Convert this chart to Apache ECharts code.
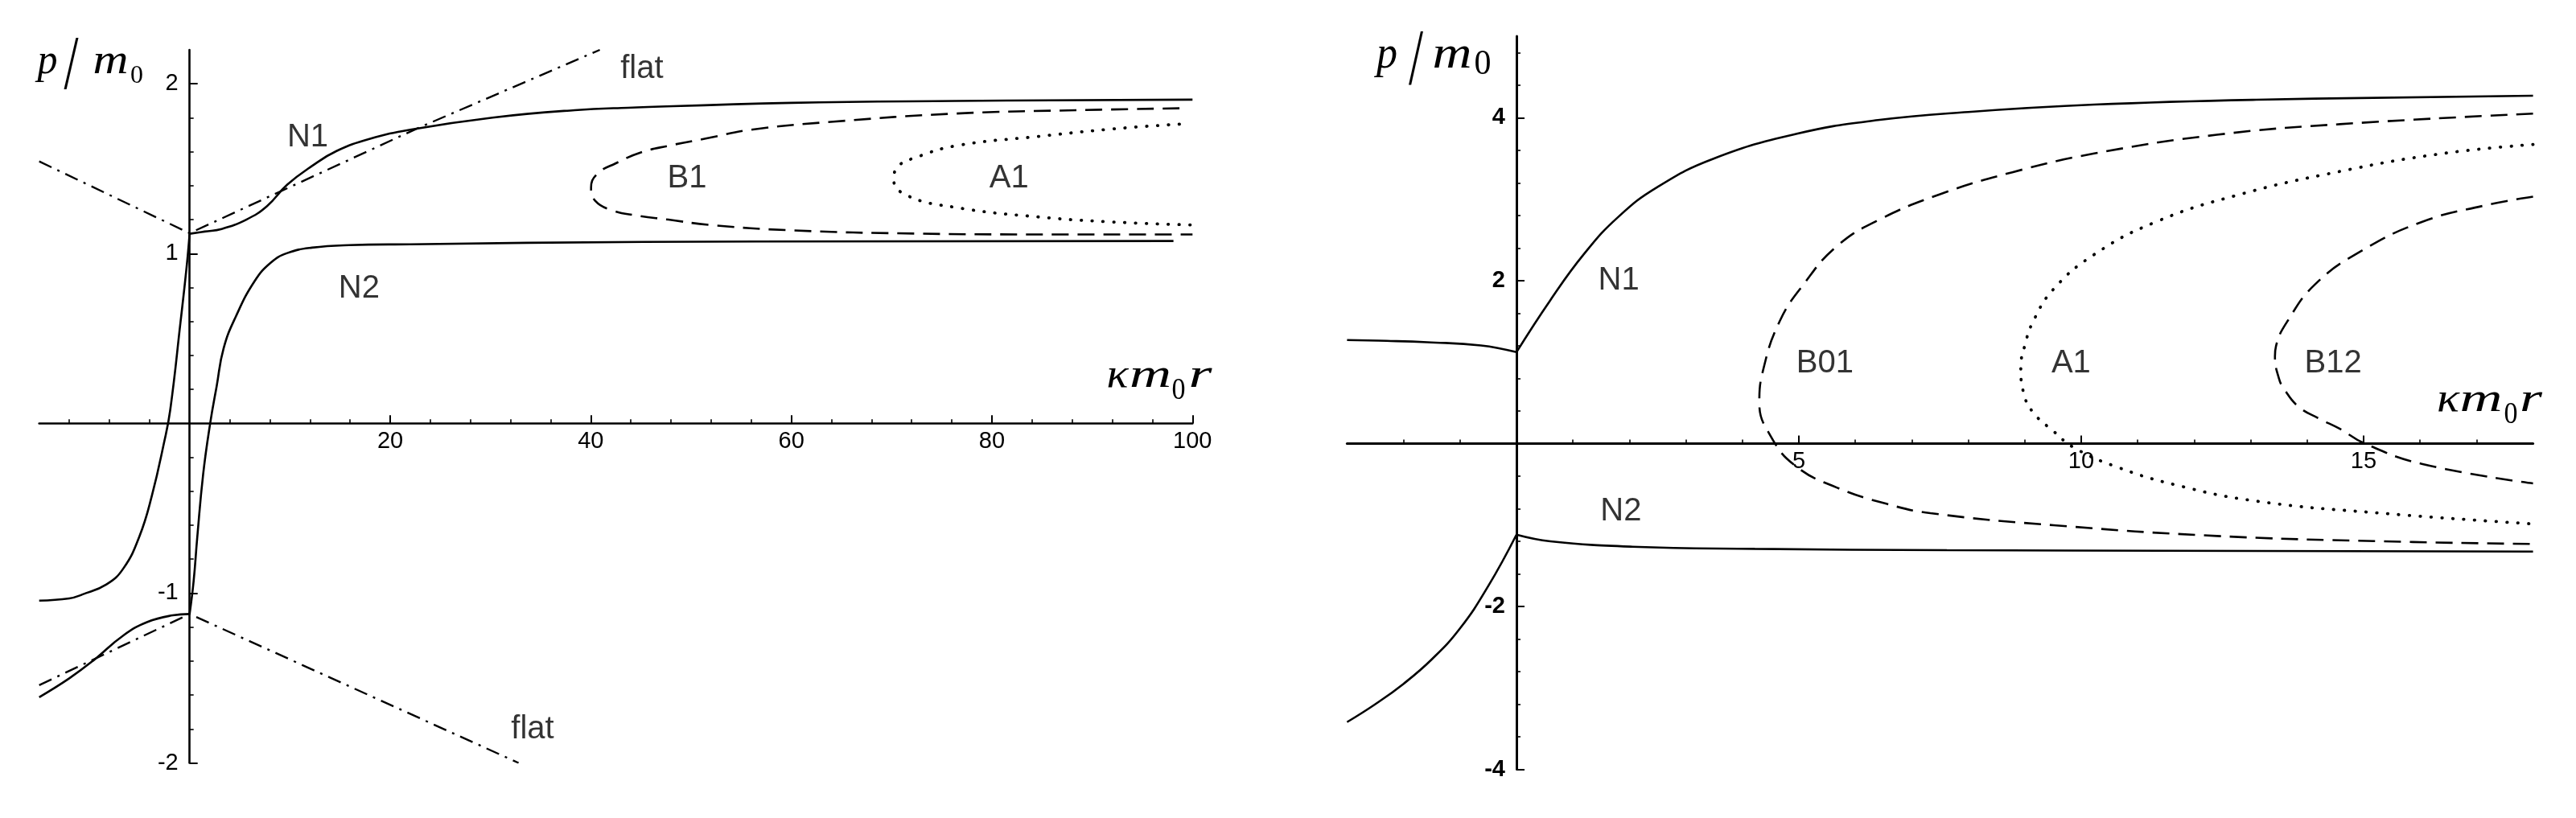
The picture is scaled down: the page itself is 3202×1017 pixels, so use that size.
<!DOCTYPE html>
<html>
<head>
<meta charset="utf-8">
<style>
  html, body { margin: 0; padding: 0; background: #fff; }
  #chart { width: 3202px; height: 1017px; }
</style>
<script src="https://cdn.jsdelivr.net/npm/echarts@6/dist/echarts.min.js"></script>
</head>
<body>
<div id="chart"></div>
<script>
// left panel: kappa m0 r from -15 to 100
const leftXMajor = [20, 40, 60, 80, 100];
const leftXMinor = [-12, -8, -4, 4, 8, 12, 16, 24, 28, 32, 36, 44, 48, 52, 56, 64, 68, 72, 76, 84, 88, 92, 96];
const leftYMajor = [-2, -1, 1, 2];
const leftYMinor = [-1.8, -1.6, -1.4, -1.2, -0.8, -0.6, -0.4, -0.2, 0.2, 0.4, 0.6, 0.8, 1.2, 1.4, 1.6, 1.8];

const leftN1Neg = [[-15, -1.044], [-12, -1.031], [-10.7, -1.008], [-8.3, -0.949], [-6.6, -0.854], [-5.0, -0.665],
  [-3.77, -0.428], [-2.54, -0.111], [-1.93, 0.08], [-0.9, 0.6], [-0.3, 0.92], [0, 1.117]];
const leftN1Pos = [[0, 1.117], [1.5, 1.13], [3.19, 1.145], [5.65, 1.2], [7.7, 1.279], [9.74, 1.406], [12.2, 1.516],
  [14.65, 1.604], [17.93, 1.675], [22.0, 1.73], [30.2, 1.801], [38.4, 1.845], [43.7, 1.859], [60, 1.888],
  [76.4, 1.899], [100, 1.907]];
const leftN2Neg = [[-15, -1.613], [-12, -1.502], [-9.5, -1.392], [-6.6, -1.249], [-4.2, -1.17], [-1.7, -1.131], [0, -1.123]];
const leftN2Pos = [[0, -1.123], [0.4, -0.93], [0.75, -0.68], [1.35, -0.3], [2.05, 0.0], [2.7, 0.22], [3.39, 0.442],
  [4.63, 0.632], [6.47, 0.837], [8.1, 0.947], [9.74, 1.003], [12.2, 1.035], [15.9, 1.05], [22.0, 1.055],
  [45.3, 1.069], [98.1, 1.074]];
const leftFlatUp = [[-15, 1.543], [0, 1.12], [22.8, 1.74], [40.9, 2.2]];
const leftFlatDown = [[-15, -1.542], [0, -1.123], [32.8, -2.0]];
const leftB1 = [[98.7, 1.856], [88.7, 1.845], [76.4, 1.825], [64.2, 1.777], [56, 1.73], [51.84, 1.682],
  [47.75, 1.635], [45.0, 1.596], [42.5, 1.532], [40.64, 1.469], [40.03, 1.39], [40.44, 1.311], [42.08, 1.256],
  [44.5, 1.225], [47.75, 1.2], [51.84, 1.169], [60, 1.137], [72.3, 1.118], [84.6, 1.113], [100, 1.113]];
const leftA1 = [[98.7, 1.762], [92.8, 1.738], [84.6, 1.69], [76.4, 1.635], [72.3, 1.564], [70.68, 1.516],
  [70.2, 1.438], [71.5, 1.343], [76.4, 1.272], [84.6, 1.216], [92.8, 1.184], [100, 1.169]];
const leftLabels = [['N1', 11.78, 1.686], ['N2', 16.9, 0.794], ['B1', 49.6, 1.441], ['A1', 81.7, 1.441],
  ['flat', 45.1, 2.086], ['flat', 34.2, -1.804]];

// right panel: kappa m0 r from -3 to 18
const rightXMajor = [5, 10, 15];
const rightXMinor = [-2, -1, 1, 2, 3, 4, 6, 7, 8, 9, 11, 12, 13, 14, 16, 17];
const rightYMajor = [-4, -2, 2, 4];
const rightYMinor = [-3.6, -3.2, -2.8, -2.4, -1.6, -1.2, -0.8, -0.4, 0.4, 0.8, 1.2, 1.6, 2.4, 2.8, 3.2, 3.6, 4.4, 4.8];

const rightN1Neg = [[-3, 1.27], [-2.3, 1.26], [-1.58, 1.243], [-0.63, 1.204], [0, 1.121]];
const rightN1Pos = [[0, 1.121], [0.6, 1.76], [1.2, 2.33], [1.8, 2.78], [2.5, 3.15], [3.5, 3.5], [4.95, 3.8],
  [6.4, 3.97], [8, 4.07], [10.23, 4.16], [13.1, 4.22], [18, 4.27]];
const rightN2Neg = [[-3, -3.42], [-2.5, -3.2], [-2, -2.95], [-1.5, -2.65], [-1, -2.27], [-0.5, -1.75], [0, -1.119]];
const rightN2Pos = [[0, -1.119], [0.6, -1.2], [2.05, -1.267], [4.22, -1.293], [7.62, -1.31], [18, -1.326]];
const rightB01 = [[18, 4.05], [14.58, 3.92], [12.4, 3.79], [10.23, 3.56], [8.78, 3.33], [7.5, 3.06], [6.4, 2.74],
  [5.67, 2.42], [5.09, 1.96], [4.66, 1.5], [4.37, 0.91], [4.3, 0.5], [4.51, 0.08], [4.95, -0.28], [5.67, -0.54],
  [6.55, -0.74], [7.33, -0.855], [9.51, -1.003], [12.4, -1.135], [15.3, -1.2], [18, -1.234]];
const rightA1 = [[18, 3.67], [16.4, 3.56], [14.58, 3.34], [12.77, 3.05], [11.32, 2.72], [10.23, 2.32], [9.51, 1.895],
  [9.15, 1.5], [9.0, 1.2], [8.93, 0.94], [8.98, 0.62], [9.15, 0.38], [9.51, 0.15], [9.87, -0.05], [10.6, -0.28],
  [11.68, -0.51], [13.13, -0.71], [15.3, -0.855], [18, -0.987]];
const rightB12 = [[18, 3.03], [17.13, 2.92], [16.03, 2.72], [14.95, 2.36], [14.15, 1.96], [13.65, 1.5], [13.45, 1.2],
  [13.43, 1.07], [13.5, 0.8], [13.6, 0.66], [13.85, 0.45], [14.2, 0.31], [14.58, 0.18], [15.02, 0.0],
  [16.03, -0.25], [18, -0.49]];
const rightLabels = [['N1', 1.81, 1.994], ['B01', 5.46, 0.981], ['N2', 1.85, -0.832], ['A1', 9.82, 0.981],
  ['B12', 14.46, 0.981]];

const chart = echarts.init(document.getElementById('chart'), null, { renderer: 'canvas' });

const grids = [
  { left: 48.7, width: 1433.6, top: 62, height: 886.5 },
  { left: 1674.4, width: 1474.2, top: 45, height: 911.5 }
];

const solid = { type: 'solid', width: 2.6 };
const dashed = { type: [21, 11], width: 2.6 };
const dotted = { type: [0.5, 13], width: 3.8, cap: 'round' };
const dashDot = { type: [17, 8, 3, 8], width: 2.4 };

function line(data, g, style) {
  return {
    type: 'line', xAxisIndex: 2 * g, yAxisIndex: 2 * g, data: data,
    symbol: 'none', smooth: 0.45, silent: true, z: 3,
    lineStyle: Object.assign({ color: '#000' }, style)
  };
}

function labels(list, g) {
  return {
    type: 'scatter', xAxisIndex: 2 * g, yAxisIndex: 2 * g, symbolSize: 0, silent: true, z: 5,
    data: list.map(l => ({ name: l[0], value: [l[1], l[2]] })),
    label: { show: true, position: 'inside', formatter: '{b}', color: '#000', fontSize: 40, fontFamily: 'Liberation Sans' }
  };
}

const tickFont = { color: '#000', fontSize: 29, fontFamily: 'Liberation Sans' };

// the axes cross at zero; labels must follow the line, so shift them with offset
function xAxes(g, min, max, ymin, ymax, major, minor, lw) {
  const off = -(0 - ymin) / (ymax - ymin) * grids[g].height;
  const base = { gridIndex: g, type: 'value', min: min, max: max, position: 'bottom', offset: off, splitLine: { show: false } };
  return [Object.assign({}, base, {
    axisLine: { onZero: false, lineStyle: { color: '#000', width: lw } },
    axisTick: { show: true, inside: true, length: 10, customValues: major, lineStyle: { color: '#000', width: 2 } },
    axisLabel: Object.assign({ customValues: major, margin: 8 }, tickFont)
  }), Object.assign({}, base, {
    axisLine: { show: false, onZero: false },
    axisTick: { show: true, inside: true, length: 5, customValues: minor, lineStyle: { color: '#000', width: 1.6 } },
    axisLabel: { show: false }
  })];
}

function yAxes(g, min, max, xmin, xmax, major, minor, lw, bold) {
  const off = -(0 - xmin) / (xmax - xmin) * grids[g].width;
  const base = { gridIndex: g, type: 'value', min: min, max: max, position: 'left', offset: off, splitLine: { show: false } };
  return [Object.assign({}, base, {
    axisLine: { onZero: false, lineStyle: { color: '#000', width: lw } },
    axisTick: { show: true, inside: true, length: 10, customValues: major, lineStyle: { color: '#000', width: 2 } },
    axisLabel: Object.assign({ customValues: major, margin: 14, fontWeight: bold ? 'bold' : 'normal' }, tickFont)
  }), Object.assign({}, base, {
    axisLine: { show: false, onZero: false },
    axisTick: { show: true, inside: true, length: 5, customValues: minor, lineStyle: { color: '#000', width: 1.6 } },
    axisLabel: { show: false }
  })];
}

// math-style axis names, glyph by glyph
const measure = document.createElement('canvas').getContext('2d');
function glyph(t, cx, cy, size, w, italic) {
  const font = (italic ? 'italic ' : '') + size + 'px "Liberation Serif"';
  measure.font = font;
  const sx = w / measure.measureText(t).width;
  return {
    type: 'text', x: cx, y: cy, scaleX: sx, silent: true, z: 10,
    style: { text: t, font: font, fill: '#000', align: 'center', verticalAlign: 'middle',
      textAlign: 'center', textVerticalAlign: 'middle' }
  };
}

const names = [
  glyph('p', 59, 77.3, 52, 25, true), glyph('/', 88.5, 85, 96, 18, false),
  glyph('m', 137.5, 77.3, 52, 44, true), glyph('0', 170, 95, 31, 16, false),
  glyph('κ', 1389, 467.5, 50, 27, true), glyph('m', 1430, 467.5, 50, 52, true),
  glyph('0', 1465, 486.5, 38, 17, false), glyph('r', 1492, 467.5, 50, 29, true),
  glyph('p', 1724, 69.4, 56, 26, true), glyph('/', 1760, 77.5, 100, 18, false),
  glyph('m', 1805, 69.4, 56, 49, true), glyph('0', 1843, 80, 44, 21, false),
  glyph('κ', 3043, 497.5, 50, 28, true), glyph('m', 3084, 497.5, 50, 53, true),
  glyph('0', 3121, 516.5, 38, 17, false), glyph('r', 3146, 497.5, 50, 28, true)
];

const option = {
  animation: false,
  backgroundColor: '#fff',
  grid: grids.map(g => Object.assign({ containLabel: false, outerBoundsMode: 'none' }, g)),
  xAxis: [].concat(xAxes(0, -15, 100, -2, 2.2, leftXMajor, leftXMinor, 2.6),
    xAxes(1, -3, 18, -4, 5, rightXMajor, rightXMinor, 3)),
  yAxis: [].concat(yAxes(0, -2, 2.2, -15, 100, leftYMajor, leftYMinor, 2.6, false),
    yAxes(1, -4, 5, -3, 18, rightYMajor, rightYMinor, 3, true)),
  graphic: names,
  series: [
    line(leftN1Neg, 0, solid), line(leftN1Pos, 0, solid),
    line(leftN2Neg, 0, solid), line(leftN2Pos, 0, solid),
    Object.assign(line(leftFlatUp, 0, dashDot), { smooth: false }),
    Object.assign(line(leftFlatDown, 0, dashDot), { smooth: false }),
    line(leftB1, 0, dashed), line(leftA1, 0, dotted),
    labels(leftLabels, 0),
    line(rightN1Neg, 1, solid), line(rightN1Pos, 1, solid),
    line(rightN2Neg, 1, solid), line(rightN2Pos, 1, solid),
    line(rightB01, 1, dashed), line(rightA1, 1, dotted), line(rightB12, 1, dashed),
    labels(rightLabels, 1)
  ]
};

chart.setOption(option);
</script>
</body>
</html>
